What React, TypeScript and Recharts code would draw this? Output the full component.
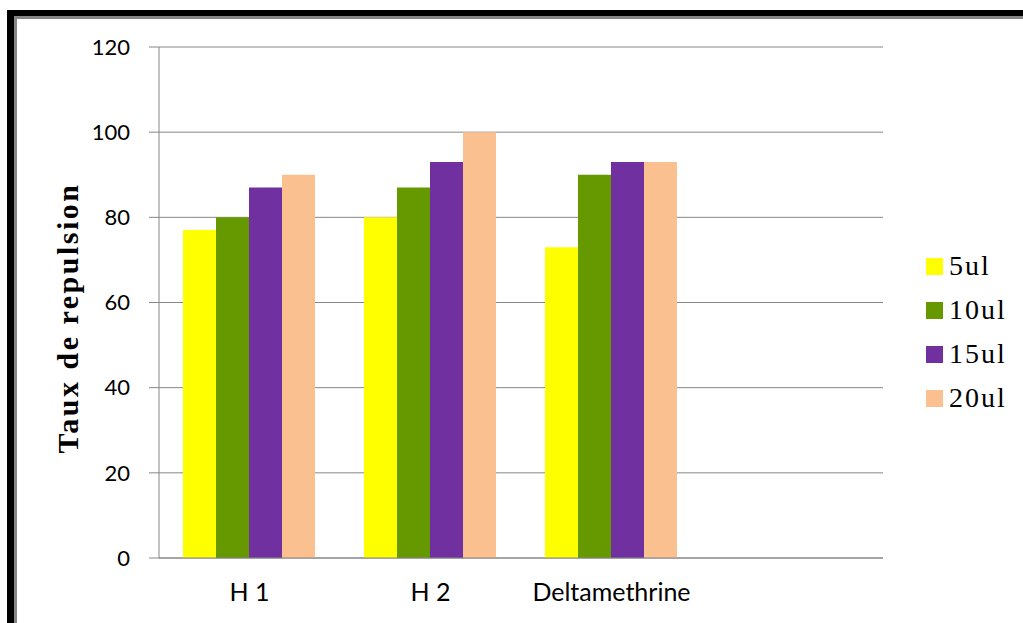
import React from "react";
import {
	BarChart,
	Bar,
	XAxis,
	YAxis,
	CartesianGrid,
	Legend,
} from "recharts";

const categories = ["H 1", "H 2", "Deltamethrine", ""];
const dose5 = [77, 80, 73, null];
const dose10 = [80, 87, 90, null];
const dose15 = [87, 93, 93, null];
const dose20 = [90, 100, 93, null];
const yTicks = [0, 20, 40, 60, 80, 100, 120];

const series = [
	{ key: "d5", name: "5ul", values: dose5, color: "#FFFF00" },
	{ key: "d10", name: "10ul", values: dose10, color: "#669900" },
	{ key: "d15", name: "15ul", values: dose15, color: "#7030A0" },
	{ key: "d20", name: "20ul", values: dose20, color: "#FAC090" },
];

const data = categories.map((name, i) => {
	const row: Record<string, string | number | null> = { name };
	series.forEach((s) => {
		row[s.key] = s.values[i];
	});
	return row;
});

const gray = "#868686";
const tickFont = "Lato, 'Open Sans', sans-serif";
const serif = "Liberation Serif, Times New Roman, serif";

function LegendBox() {
	return (
		<div>
			{series.map((s) => (
				<div
					key={s.key}
					style={{ display: "flex", alignItems: "center", height: 44 }}
				>
					<span
						style={{
							display: "inline-block",
							width: 17,
							height: 17,
							background: s.color,
							marginRight: 6,
						}}
					/>
					<span
						style={{
							fontFamily: serif,
							fontSize: 28,
							letterSpacing: 2,
							color: "#000",
							lineHeight: "28px",
						}}
					>
						{s.name}
					</span>
				</div>
			))}
		</div>
	);
}

export default function App() {
	return (
		<div
			style={{
				position: "absolute",
				left: 0,
				top: 0,
				width: 1023,
				height: 623,
				background: "#fff",
				overflow: "hidden",
			}}
		>
			{/* frame: only top and left edges are visible */}
			<div style={{ position: "absolute", left: 7, top: 10, width: 1016, height: 6, background: "#000" }} />
			<div style={{ position: "absolute", left: 7, top: 10, width: 7, height: 613, background: "#000" }} />
			<div style={{ position: "absolute", left: 14, top: 16, width: 1009, height: 3, background: gray }} />
			<div style={{ position: "absolute", left: 14, top: 16, width: 3, height: 607, background: gray }} />

			<div style={{ position: "absolute", left: 0, top: 0 }}>
				<BarChart
					width={1023}
					height={623}
					data={data}
					margin={{ top: 47, right: 140, bottom: 25, left: 0 }}
					barCategoryGap={24}
					barGap={0}
				>
					<CartesianGrid vertical={false} stroke={gray} />
					<XAxis
						dataKey="name"
						height={40}
						tickLine={false}
						axisLine={{ stroke: gray }}
						tickMargin={19}
						tick={{ fontFamily: tickFont, fontSize: 25, fill: "#000" }}
					/>
					<YAxis
						width={159}
						domain={[0, 120]}
						ticks={yTicks}
						interval={0}
						tickSize={10}
						tickMargin={19}
						tickLine={{ stroke: gray }}
						axisLine={{ stroke: gray }}
						tick={{ fontFamily: tickFont, fontSize: 22, fill: "#000" }}
						label={{
							content: () => (
								<text
									x={67}
									y={318}
									transform="rotate(-90 67 318)"
									textAnchor="middle"
									dominantBaseline="central"
									style={{ fontFamily: serif }}
									fontWeight="bold"
									fontSize={30}
									letterSpacing={2.5}
									fill="#000"
								>
									Taux de repulsion
								</text>
							),
						}}
					/>
					<Legend
						layout="horizontal"
						verticalAlign="middle"
						align="center"
						wrapperStyle={{ left: 926, top: 244, width: 100 }}
						content={() => <LegendBox />}
					/>
					{series.map((s) => (
						<Bar
							key={s.key}
							dataKey={s.key}
							name={s.name}
							fill={s.color}
							isAnimationActive={false}
						/>
					))}
				</BarChart>
			</div>
		</div>
	);
}
